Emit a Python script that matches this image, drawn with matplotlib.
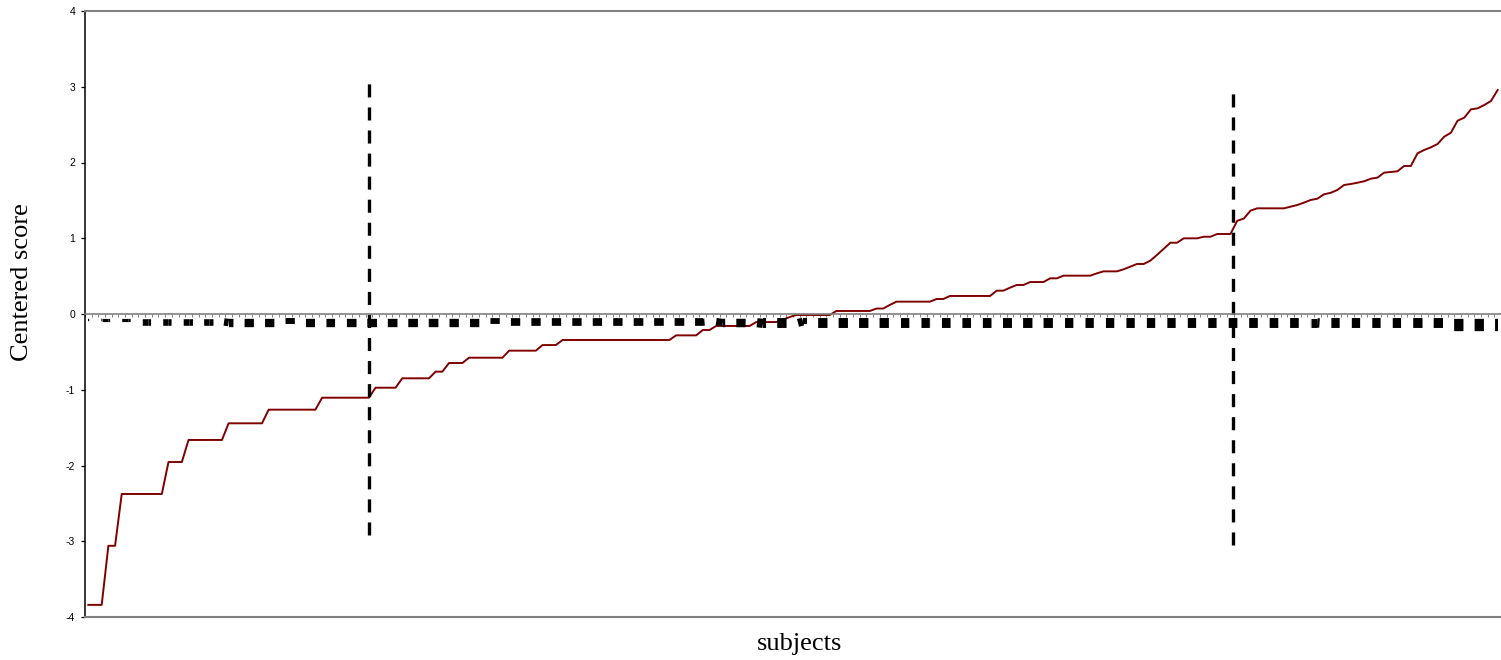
import numpy as np
import matplotlib
matplotlib.use("Agg")
import matplotlib.pyplot as plt
from matplotlib.collections import LineCollection

plt.rcParams['lines.scale_dashes'] = False

# ---------------- data ----------------
# sorted centered scores of the subjects, as (level, number of subjects)
red_steps = [(-3.84, 3), (-3.06, 2), (-2.376, 7), (-1.954, 3), (-1.663, 6), (-1.443, 6),
             (-1.263, 8), (-1.105, 8), (-0.973, 4), (-0.849, 5), (-0.761, 2), (-0.647, 3),
             (-0.577, 6), (-0.484, 5), (-0.41, 3), (-0.343, 17), (-0.282, 4), (-0.211, 2),
             (-0.158, 6), (-0.106, 4), (-0.075, 1), (-0.04, 1), (-0.013, 6), (0.04, 6),
             (0.072, 2), (0.12, 1), (0.163, 6), (0.198, 2), (0.238, 7), (0.308, 2),
             (0.348, 1), (0.383, 2), (0.422, 3), (0.471, 2), (0.506, 5), (0.537, 1),
             (0.563, 3), (0.59, 1), (0.625, 1), (0.66, 2), (0.704, 1), (0.78, 1), (0.86, 1),
             (0.941, 2), (0.999, 3), (1.02, 2), (1.056, 3), (1.23, 1), (1.26, 1), (1.364, 1),
             (1.395, 5), (1.417, 1), (1.439, 1), (1.47, 1), (1.505, 1), (1.522, 1), (1.58, 1),
             (1.60, 1), (1.637, 1), (1.703, 1), (1.716, 1), (1.733, 1), (1.752, 1), (1.786, 1),
             (1.80, 1), (1.866, 1), (1.875, 1), (1.884, 1), (1.954, 2), (2.121, 1), (2.165, 1),
             (2.2, 1), (2.244, 1), (2.341, 1), (2.393, 1), (2.552, 1), (2.592, 1), (2.702, 1),
             (2.715, 1), (2.759, 1), (2.812, 1), (2.957, 1)]

# black dashed band: upper and lower edge per subject, as (level, number of subjects)
black_upper_steps = [(-0.058, 212)]
black_lower_steps = [(-0.09, 2), (-0.10, 6), (-0.145, 13), (-0.168, 8), (-0.136, 3),
                     (-0.168, 28), (-0.135, 3), (-0.16, 30), (-0.145, 2), (-0.17, 6),
                     (-0.189, 6), (-0.14, 2), (-0.189, 74), (-0.176, 2), (-0.189, 19),
                     (-0.22, 8)]

# vertical cut-off markers (subject position, top, bottom)
cut_subjects = [43.0, 172.4]
cut_top = [3.12, 2.98]
cut_bottom = [-2.92, -3.05]

y_ticks = [-4, -3, -2, -1, 0, 1, 2, 3, 4]
y_label = "Centered score"
x_label = "subjects"


def expand(steps):
    levels = [s[0] for s in steps]
    counts = [s[1] for s in steps]
    return np.repeat(levels, counts)


red = expand(red_steps)
b_up = expand(black_upper_steps)
b_lo = expand(black_lower_steps)
N = len(red)
subjects = np.arange(1, N + 1)

# ---------------- figure ----------------
W, H, DPI = 1501, 660, 100
fig = plt.figure(figsize=(W / DPI, H / DPI), dpi=DPI)
ax = fig.add_axes([85 / W, 43 / H, 1416 / W, 606 / H])
ax.set_xlim(0.5, N + 0.5)
ax.set_ylim(-4, 4)

grey = "#808080"
ax.spines['left'].set_color('black')
ax.spines['left'].set_linewidth(1.1)
ax.spines['top'].set_color(grey)
ax.spines['top'].set_linewidth(1.5)
ax.spines['right'].set_visible(False)
ax.spines['bottom'].set_position(('data', 0))
ax.spines['bottom'].set_color(grey)
ax.spines['bottom'].set_linewidth(1.2)
ax.spines['bottom'].set_zorder(4)
ax.axhline(-4, color=grey, lw=1.5, clip_on=False, zorder=4)

ax.set_xticks(np.arange(0.5, N + 1, 1))
ax.set_xticklabels([])
ax.tick_params(axis='x', direction='out', length=2.2, width=0.7, color=grey)

ax.set_yticks(y_ticks)
ax.set_yticklabels([str(t) for t in y_ticks], fontsize=7.5, family='Liberation Sans')
ax.tick_params(axis='y', direction='out', length=3, width=0.9, color='black', pad=4)

# red curve
ax.plot(subjects, red, color='#800000', lw=1.4, zorder=2, solid_joinstyle='round')

# black dashed band drawn as a dashed line whose thickness follows the band
fig.canvas.draw()
px_per_unit = ax.bbox.height / 8.0
px_per_subject = ax.bbox.width / N
center = (b_up + b_lo) / 2.0
thick_px = (b_up - b_lo) * px_per_unit
on_px, off_px = 9.0, 11.5
period_px = on_px + off_px
phase_px = 7.8
pt = 72.0 / DPI
segs, widths, styles = [], [], []
for k in range(N - 1):
    segs.append([(subjects[k], center[k]), (subjects[k + 1], center[k + 1])])
    widths.append(0.5 * (thick_px[k] + thick_px[k + 1]) * pt)
    start_px = (k * px_per_subject + phase_px) % period_px
    styles.append((start_px * pt, (on_px * pt, off_px * pt)))
lc = LineCollection(segs, linewidths=widths, linestyles=styles, colors='black',
                    capstyle='butt', zorder=3)
ax.add_collection(lc)

# vertical dashed markers
ax.vlines(cut_subjects, cut_bottom, cut_top, colors='black', linewidth=2.4,
          linestyles=[(0, (9.4, 7.2))], zorder=3)

fig.text(22 / W, 1 - 282 / H, y_label, rotation=90, ha='center', va='center',
         fontsize=19, family='Liberation Serif')
fig.text(800 / W, 1 - 644 / H, x_label, ha='center', va='center',
         fontsize=19, family='Liberation Serif')

fig.savefig("out.png", dpi=DPI)
